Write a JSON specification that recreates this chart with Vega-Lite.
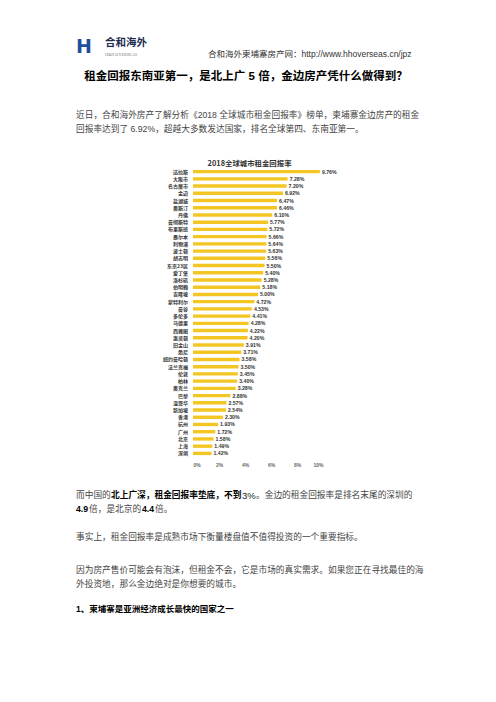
{
  "$schema": "https://vega.github.io/schema/vega-lite/v6.json",
  "background": "white",
  "padding": {"left": 76, "top": 38, "right": 0, "bottom": 60},
  "spacing": 0,
  "config": {
    "view": {"stroke": null},
    "concat": {"spacing": 0},
    "title": {
      "font": "Liberation Sans, Noto Sans CJK SC",
      "fontSize": 8.7,
      "fontWeight": "normal",
      "color": "#444",
      "anchor": "start",
      "frame": "group",
      "offset": 0,
      "subtitlePadding": 0
    }
  },
  "vconcat": [
    {
      "spacing": 0,
      "hconcat": [
        {"width": 29, "height": 8.15, "data": {"values": []}, "mark": "text",
         "title": {"text": "H", "font": "DejaVu Sans", "fontSize": 19, "fontWeight": "bold", "color": "#1f4e9c"}},
        {"width": 103, "height": 1, "data": {"values": []}, "mark": "text",
         "title": {"text": "合和海外", "font": "Noto Sans CJK SC", "fontSize": 10.5, "fontWeight": "bold", "color": "#1c2c50",
                   "subtitle": "H&H OVERSEAS", "subtitleFont": "Liberation Serif", "subtitleFontSize": 4.2, "subtitleColor": "#777", "subtitlePadding": 4}},
        {"width": 1, "height": 1, "data": {"values": []}, "mark": "text",
         "title": {"text": "合和海外柬埔寨房产网：http://www.hhoverseas.cn/jpz", "fontSize": 8.5, "color": "#333", "dy": 1.5}}
      ]
    },
    {"width": 340, "height": 24.9, "data": {"values": []}, "mark": "text",
     "title": {"text": "租金回报东南亚第一，是北上广 5 倍，金边房产凭什么做得到？", "anchor": "middle", "fontSize": 11.5, "fontWeight": "bold", "color": "#000"}},
    {"width": 340, "height": 20.95, "data": {"values": []}, "mark": "text",
     "title": {"text": ["近日，合和海外房产了解分析《2018 全球城市租金回报率》榜单，柬埔寨金边房产的租金", "回报率达到了 6.92%，超越大多数发达国家，排名全球第四、东南亚第一。"], "lineHeight": 14}},
    {
      "spacing": 0,
      "hconcat": [
        {"width": 86, "height": 321.85, "data": {"values": []}, "mark": "text"},
        {
          "width": 130,
          "height": 289,
          "title": {"text": "2018全球城市租金回报率", "font": "Noto Sans CJK SC", "fontSize": 7.4, "fontWeight": "bold", "color": "#333", "anchor": "middle", "frame": "bounds", "offset": 0.7},
          "data": {"values": [
            {"city": "达拉斯", "rate": 0.0976},
            {"city": "大阪市", "rate": 0.0728},
            {"city": "名古屋市", "rate": 0.0720},
            {"city": "金边", "rate": 0.0692},
            {"city": "盐湖城", "rate": 0.0647},
            {"city": "奥斯汀", "rate": 0.0646},
            {"city": "丹佛", "rate": 0.0610},
            {"city": "曼彻斯特", "rate": 0.0577},
            {"city": "布里斯班", "rate": 0.0572},
            {"city": "墨尔本", "rate": 0.0566},
            {"city": "利物浦", "rate": 0.0564},
            {"city": "波士顿", "rate": 0.0563},
            {"city": "胡志明", "rate": 0.0556},
            {"city": "东京23区", "rate": 0.0550},
            {"city": "爱丁堡", "rate": 0.0540},
            {"city": "洛杉矶", "rate": 0.0528},
            {"city": "伯明翰", "rate": 0.0518},
            {"city": "吉隆坡", "rate": 0.0500},
            {"city": "蒙特利尔", "rate": 0.0472},
            {"city": "曼谷", "rate": 0.0453},
            {"city": "多伦多", "rate": 0.0441},
            {"city": "马德里", "rate": 0.0428},
            {"city": "西雅图", "rate": 0.0422},
            {"city": "惠灵顿", "rate": 0.0420},
            {"city": "旧金山", "rate": 0.0391},
            {"city": "悉尼", "rate": 0.0371},
            {"city": "纽约曼哈顿", "rate": 0.0358},
            {"city": "法兰克福", "rate": 0.0350},
            {"city": "伦敦", "rate": 0.0345},
            {"city": "柏林", "rate": 0.0340},
            {"city": "奥克兰", "rate": 0.0328},
            {"city": "巴黎", "rate": 0.0288},
            {"city": "温哥华", "rate": 0.0257},
            {"city": "新加坡", "rate": 0.0254},
            {"city": "香港", "rate": 0.0230},
            {"city": "杭州", "rate": 0.0193},
            {"city": "广州", "rate": 0.0172},
            {"city": "北京", "rate": 0.0158},
            {"city": "上海", "rate": 0.0149},
            {"city": "深圳", "rate": 0.0142}
          ]},
          "encoding": {
            "y": {"field": "city", "type": "nominal", "sort": null,
                  "scale": {"paddingInner": 0.53, "paddingOuter": 0.265},
                  "axis": {"title": null, "domain": false, "ticks": false, "labelPadding": 5.5, "labelFont": "Noto Sans CJK SC", "labelFontSize": 5, "labelFontWeight": "bold", "labelColor": "#333"}},
            "x": {"field": "rate", "type": "quantitative",
                  "scale": {"domain": [0, 0.1]},
                  "axis": {"title": null, "domain": false, "ticks": false, "grid": false, "values": [0, 0.02, 0.04, 0.06, 0.08, 0.1], "format": ".0%", "labelPadding": 5, "labelFont": "Liberation Sans", "labelFontSize": 5, "labelFontWeight": "bold", "labelColor": "#666"}}
          },
          "layer": [
            {"mark": {"type": "bar", "color": "#F3C623"}},
            {"mark": {"type": "text", "align": "left", "dx": 2, "font": "Liberation Sans", "fontSize": 5.2, "fontWeight": "bold", "color": "#333"},
             "encoding": {"text": {"field": "rate", "type": "quantitative", "format": ".2%"}}}
          ]
        }
      ]
    },
    {
      "spacing": 0,
      "hconcat": [
        {"width": 1, "height": 0.8, "data": {"values": []}, "mark": "text", "title": {"text": "而中国的"}},
        {"width": 1, "height": 0.8, "data": {"values": []}, "mark": "text", "title": {"text": "北上广深，租金回报率垫底，不到 ", "fontWeight": "bold", "color": "#000"}},
        {"width": 1, "height": 0.8, "data": {"values": []}, "mark": "text", "title": {"text": "3%", "fontSize": 9.5, "color": "#222"}},
        {"width": 1, "height": 0.8, "data": {"values": []}, "mark": "text", "title": {"text": "。金边的租金回报率是排名末尾的深圳的"}}
      ]
    },
    {
      "spacing": 0,
      "hconcat": [
        {"width": 1, "height": 14.8, "data": {"values": []}, "mark": "text", "title": {"text": "4.9 ", "fontWeight": "bold", "color": "#000"}},
        {"width": 1, "height": 14.8, "data": {"values": []}, "mark": "text", "title": {"text": "倍，是北京的 "}},
        {"width": 1, "height": 14.8, "data": {"values": []}, "mark": "text", "title": {"text": "4.4 ", "fontWeight": "bold", "color": "#000"}},
        {"width": 1, "height": 14.8, "data": {"values": []}, "mark": "text", "title": {"text": "倍。"}}
      ]
    },
    {"width": 1, "height": 18.2, "data": {"values": []}, "mark": "text",
     "title": {"text": "事实上，租金回报率是成熟市场下衡量楼盘值不值得投资的一个重要指标。"}},
    {"width": 1, "height": 11, "data": {"values": []}, "mark": "text",
     "title": {"text": ["因为房产售价可能会有泡沫，但租金不会，它是市场的真实需求。如果您正在寻找最佳的海", "外投资地，那么金边绝对是你想要的城市。"], "lineHeight": 14.6}},
    {"width": 1, "height": 1, "data": {"values": []}, "mark": "text",
     "title": {"text": "1、柬埔寨是亚洲经济成长最快的国家之一", "fontWeight": "bold", "color": "#000", "fontSize": 8.5}}
  ]
}
